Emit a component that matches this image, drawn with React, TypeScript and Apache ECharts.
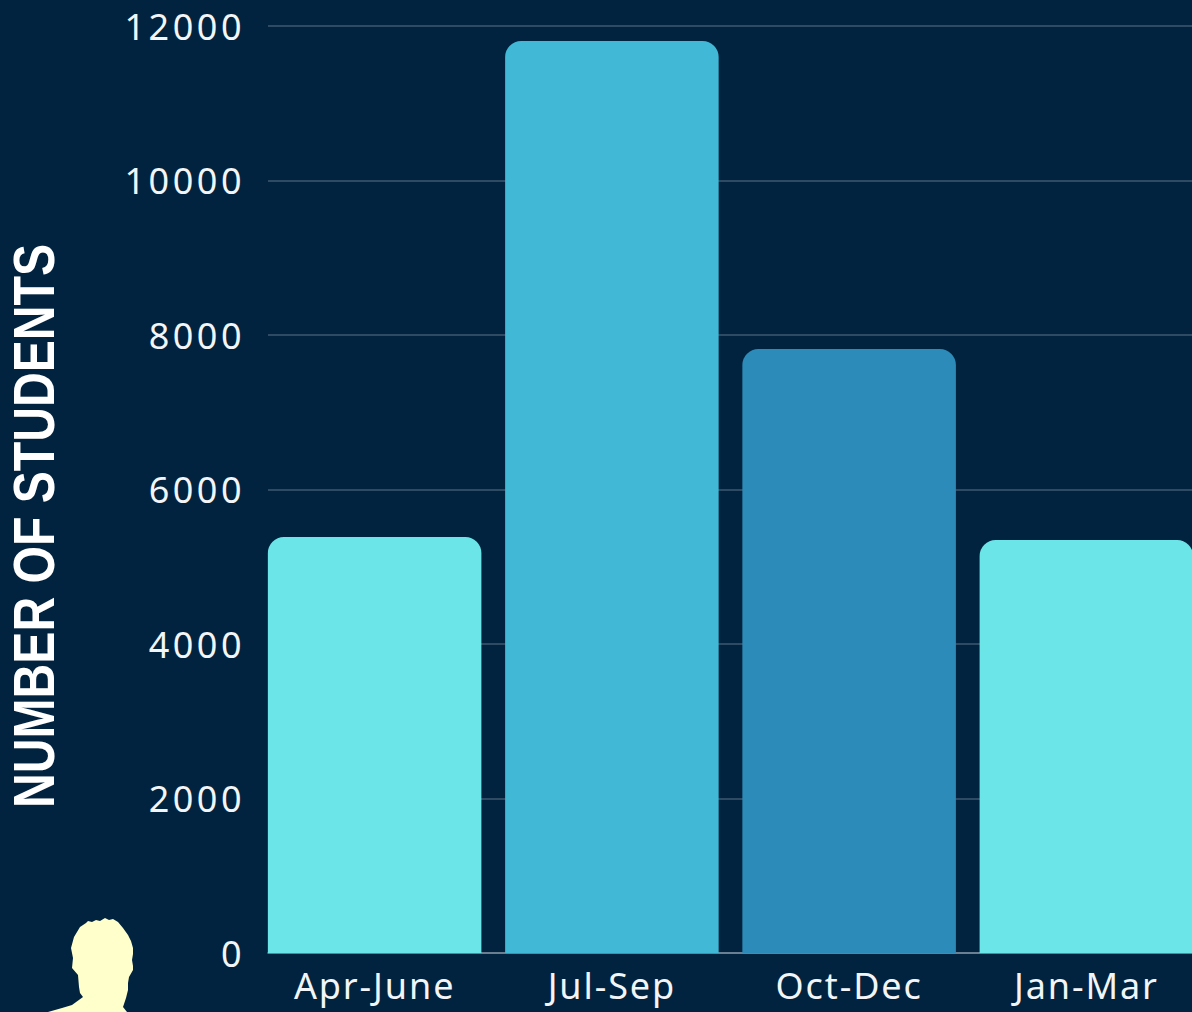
import React, { useEffect, useRef } from "react";
import * as echarts from "echarts";

const categories = ["Apr-June", "Jul-Sep", "Oct-Dec", "Jan-Mar"];
const students = [5385, 11806, 7819, 5346];
const barColors = ["#6CE5E8", "#41B8D5", "#2D8BBA", "#6CE5E8"];
const axisTitle = "NUMBER OF STUDENTS";
const silhouette = "M80 927 L86 923 L88 921 L92 922 L96 920 L100 921 L105 918 L109 920 L113 919 L118 922 L123 928 L128 935 L131 941 L133 948 L133 954 L132 960 L133 966 L133 970 L129 977 L128 983 L128 990 L126 998 L123 1007 L127 1012 L48 1012 L62 1008 L72 1005 L83 997 L80 993 L79 987 L78 975 L72 968 L73 958 L71 948 L74 937 Z";

echarts.graphic.registerShape("person", echarts.graphic.extendPath(silhouette, {}) as any);

export default function App() {
  const ref = useRef<HTMLDivElement>(null);
  useEffect(() => {
    const chart = echarts.init(ref.current!, null, { renderer: "svg" });
    chart.setOption({
      animation: false,
      backgroundColor: "#02233F",
      grid: [
        { left: 256, width: 949, top: 26, bottom: 59, outerBoundsMode: "none" },
        { left: 268, right: 0, top: 26, bottom: 59, outerBoundsMode: "none" },
      ],
      xAxis: [
        {
          type: "category",
          gridIndex: 0,
          data: categories,
          axisTick: { show: false },
          axisLine: { show: false },
          axisLabel: { color: "#F2F6F8", fontFamily: "Noto Sans", fontSize: 36, margin: 14 },
        },
        {
          type: "value",
          gridIndex: 1,
          min: 0,
          max: 1,
          axisLabel: { show: false },
          axisTick: { show: false },
          splitLine: { show: false },
          axisLine: { show: true, onZero: false, lineStyle: { color: "#7F90A0", width: 1.5 } },
        },
      ],
      yAxis: [
        {
          type: "value",
          gridIndex: 0,
          min: 0,
          max: 12000,
          interval: 2000,
          axisLabel: { show: false },
          axisLine: { show: false },
          axisTick: { show: false },
          splitLine: { show: false },
        },
        {
          type: "value",
          gridIndex: 1,
          min: 0,
          max: 12000,
          interval: 2000,
          axisLine: { show: false },
          axisTick: { show: false },
          splitLine: { lineStyle: { color: "#3F5A70", width: 1.5 } },
          axisLabel: {
            color: "#F2F6F8",
            fontFamily: "Noto Sans",
            fontSize: 36,
            margin: 23,
            padding: [0, 0, 2, 0],
            formatter: (v: number) => String(v),
          },
        },
      ],
      series: [
        {
          type: "bar",
          xAxisIndex: 0,
          yAxisIndex: 0,
          barWidth: "90%",
          z: 5,
          data: students.map((v, i) => ({
            value: v,
            itemStyle: { color: barColors[i], borderRadius: [16, 16, 0, 0] },
          })),
        },
      ],
      graphic: [
        {
          type: "text",
          x: 34,
          y: 526,
          rotation: Math.PI / 2,
          scaleX: 0.83,
          style: {
            text: axisTitle,
            fill: "#FFFFFF",
            font: 'bold 58px "Liberation Sans"',
            align: "center",
            verticalAlign: "middle",
          },
        },
        { type: "person", x: 0, y: 0, style: { fill: "#FFFFCC" } },
      ],
    });
    return () => chart.dispose();
  }, []);
  return (
    <>
      <style>{`#chart text[style*="Noto"]{letter-spacing:1.9px}#chart text[style*="Noto"][text-anchor="end"]{letter-spacing:3.5px}`}</style>
      <div id="chart" ref={ref} style={{ position: "fixed", left: 0, top: 0, width: 1192, height: 1012 }} />
    </>
  );
}
